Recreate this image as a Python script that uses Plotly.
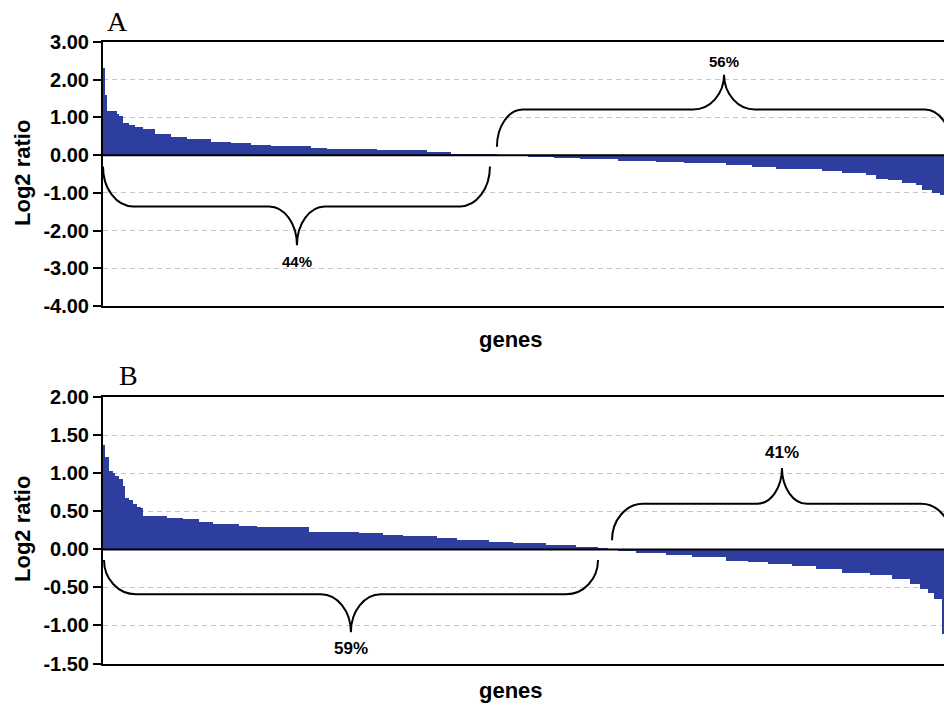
import numpy as np
import plotly.graph_objects as go

# ---------------- data (sorted log2 ratios, read as plateaus: level, number of genes) -------------
A_levels = [2.30, 1.59, 1.18, 1.10, 1.04, 0.84, 0.81, 0.75, 0.70, 0.55, 0.49, 0.43, 0.35, 0.31,
            0.28, 0.24, 0.20, 0.17, 0.13, 0.08, 0.04, 0.02, 0.01, -0.01, -0.04, -0.07, -0.11,
            -0.15, -0.18, -0.20, -0.22, -0.26, -0.31, -0.36, -0.42, -0.47, -0.53, -0.62, -0.66,
            -0.75, -0.80, -0.92, -1.00, -1.05]
A_counts = [1, 1, 5, 1, 2, 3, 3, 4, 6, 8, 8, 12, 10, 10,
            10, 20, 8, 25, 25, 12, 7, 10, 6, 16, 13, 13, 19,
            19, 14, 13, 8, 13, 12, 23, 10, 12, 5, 6, 7,
            7, 3, 5, 4, 2]

B_levels = [1.37, 1.21, 1.03, 1.00, 0.96, 0.92, 0.83, 0.67, 0.65, 0.59, 0.55, 0.54,
            0.44, 0.41, 0.40, 0.35, 0.33, 0.31, 0.29, 0.23, 0.21, 0.19, 0.17, 0.15, 0.125,
            0.10, 0.08, 0.05, 0.03, 0.01, -0.01,
            -0.03, -0.055, -0.08, -0.11, -0.15, -0.17, -0.20, -0.22, -0.26, -0.31, -0.34,
            -0.39, -0.46, -0.52, -0.58, -0.65, -1.12]
B_counts = [1, 2, 2, 1, 2, 2, 1, 2, 2, 2, 2, 1,
            12, 8, 8, 7, 13, 9, 26, 25, 12, 10, 17, 10, 16,
            12, 17, 15, 11, 5, 5,
            9, 15, 13, 17, 11, 10, 12, 12, 13, 14, 11,
            9, 5, 4, 3, 4, 1]

A_ticks = [3, 2, 1, 0, -1, -2, -3, -4]
A_ticktext = ["3.00", "2.00", "1.00", "0.00", "-1.00", "-2.00", "-3.00", "-4.00"]
B_ticks = [2, 1.5, 1, 0.5, 0, -0.5, -1, -1.5]
B_ticktext = ["2.00", "1.50", "1.00", "0.50", "0.00", "-0.50", "-1.00", "-1.50"]

# brace annotations: (x0, xc, x1, y_end, y_base, y_tip, r_end, r_tip, label, label_y)
A_braces = [(0.5, 97.6, 194.2, -0.30, -1.36, -2.39, 15, 14, "44%", -2.82),
            (197.7, 311.4, 425.0, 0.22, 1.21, 2.13, 13, 15.5, "56%", 2.48)]
B_braces = [(1.0, 124.6, 248.3, -0.14, -0.59, -1.09, 16, 15, "59%", -1.30),
            (255.3, 340.4, 425.5, 0.12, 0.60, 1.07, 15.5, 12.5, "41%", 1.28)]

# -----------------------------------------------------------------------------------------------
A_vals = np.repeat(A_levels, A_counts)
B_vals = np.repeat(B_levels, B_counts)
A_x = np.arange(1, len(A_vals) + 1)
B_x = np.arange(1, len(B_vals) + 1)

BAR = "#2d3e9e"
FONT = "Liberation Sans, Arial, sans-serif"
W, H = 945, 707
L, R = 103, 1
PW = W - L - R


def px(xp):
    return (xp - L) / PW


def py(yp):
    return 1 - yp / H


def brace_path(x0, xc, x1, ye, yb, yt, r, r2):
    k = 0.552
    p = f"M {x0},{ye} "
    p += f"C {x0},{ye + k*(yb-ye)} {x0 + r - k*r},{yb} {x0 + r},{yb} "
    p += f"L {xc - r2},{yb} "
    p += f"C {xc - r2 + k*r2},{yb} {xc},{yt - k*(yt-yb)} {xc},{yt} "
    p += f"C {xc},{yt - k*(yt-yb)} {xc + r2 - k*r2},{yb} {xc + r2},{yb} "
    p += f"L {x1 - r},{yb} "
    p += f"C {x1 - r + k*r},{yb} {x1},{ye + k*(yb-ye)} {x1},{ye}"
    return p


fig = go.Figure()
fig.add_trace(go.Bar(x=A_x, y=A_vals, marker=dict(color=BAR, line=dict(width=0)),
                     xaxis="x", yaxis="y", showlegend=False))
fig.add_trace(go.Bar(x=B_x, y=B_vals, marker=dict(color=BAR, line=dict(width=0)),
                     xaxis="x2", yaxis="y2", showlegend=False))

n = len(A_vals)
xcommon = dict(range=[0.5, n + 0.5], showticklabels=False, ticks="", showgrid=False,
               zeroline=False, showline=True, linecolor="black", linewidth=1.5, mirror=True,
               automargin=False)
ycommon = dict(showline=True, linecolor="black", linewidth=2, ticks="outside", ticklen=8,
               tickwidth=1.5, tickcolor="black", showgrid=True, gridcolor="#c4c4c4",
               gridwidth=1.3, griddash="5px,4px", zeroline=False, automargin=False,
               tickfont=dict(family=FONT, size=20, color="black", weight="bold"))

fig.update_layout(
    width=W, height=H, autosize=False,
    margin=dict(l=L, r=R, t=0, b=0, pad=0, autoexpand=False),
    paper_bgcolor="white", plot_bgcolor="white", bargap=0, barmode="overlay",
    showlegend=False,
    xaxis=dict(domain=[0, 1], anchor="y", **xcommon),
    yaxis=dict(domain=[py(306), py(42)], anchor="x", range=[-4, 3],
               tickvals=A_ticks, ticktext=A_ticktext, **ycommon),
    xaxis2=dict(domain=[0, 1], anchor="y2", **xcommon),
    yaxis2=dict(domain=[py(663.5), py(397.3)], anchor="x2", range=[-1.5, 2],
                tickvals=B_ticks, ticktext=B_ticktext, **ycommon),
)

shapes = []
annos = []
for xr, yr, braces, fs in (("x", "y", A_braces, 15), ("x2", "y2", B_braces, 17)):
    # solid zero line above the bars
    shapes.append(dict(type="line", xref=f"{xr} domain", yref=yr, x0=0, x1=1, y0=0, y1=0,
                       line=dict(color="black", width=2), layer="above"))
    for (x0, xc, x1, ye, yb, yt, r, r2, lab, ly) in braces:
        shapes.append(dict(type="path", xref=xr, yref=yr,
                           path=brace_path(x0, xc, x1, ye, yb, yt, r, r2),
                           line=dict(color="black", width=2), layer="above"))
        annos.append(dict(x=xc, y=ly, xref=xr, yref=yr, text=lab, showarrow=False,
                          xanchor="center", yanchor="middle",
                          font=dict(family=FONT, size=fs, color="black", weight="bold")))

for lab, xp, yp in (("A", 117, 22), ("B", 128, 375)):
    annos.append(dict(x=px(xp), y=py(yp), xref="paper", yref="paper", text=lab,
                      xanchor="center", yanchor="middle", showarrow=False,
                      font=dict(family="Liberation Serif, Times New Roman, serif",
                                size=28, color="black")))
for yp in (173, 529):
    annos.append(dict(x=px(22), y=py(yp), xref="paper", yref="paper", text="Log2 ratio",
                      textangle=-90, showarrow=False, xanchor="center", yanchor="middle",
                      font=dict(family=FONT, size=22, color="black", weight="bold")))
for yp in (340, 690):
    annos.append(dict(x=px(511), y=py(yp), xref="paper", yref="paper", text="genes",
                      showarrow=False, xanchor="center", yanchor="middle",
                      font=dict(family=FONT, size=22, color="black", weight="bold")))

fig.update_layout(shapes=shapes, annotations=annos)

post = ("document.documentElement.style.margin='0';document.body.style.margin='0';"
        "document.body.style.padding='0';document.body.style.overflow='hidden';"
        "var gd=document.getElementById('{plot_id}');"
        "Plotly.relayout(gd,{width:%d,height:%d});" % (W, H))
fig.write_html("out.html", config={"responsive": False, "displayModeBar": False},
               post_script=post)
